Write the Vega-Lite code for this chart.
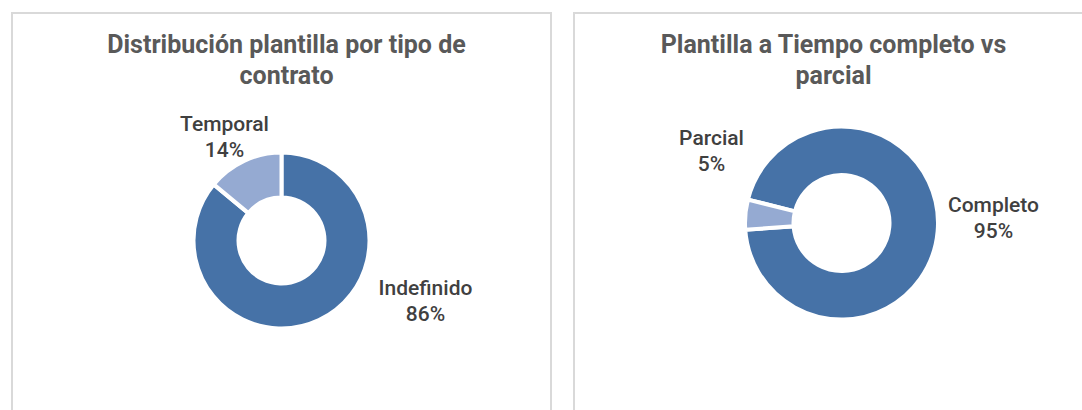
{
  "$schema": "https://vega.github.io/schema/vega-lite/v6.json",
  "background": "white",
  "padding": {"left": 11, "top": 12, "right": 0, "bottom": 0},
  "datasets": {
    "contrato": [
      {"tipo": "Indefinido", "pct": 86, "etiqueta": "Indefinido\n86%"},
      {"tipo": "Temporal", "pct": 14, "etiqueta": "Temporal\n14%"}
    ],
    "jornada": [
      {"tipo": "Completo", "pct": 95, "etiqueta": "Completo\n95%"},
      {"tipo": "Parcial", "pct": 5, "etiqueta": "Parcial\n5%"}
    ],
    "marco": [{}]
  },
  "spacing": 21,
  "resolve": {"scale": {"theta": "independent", "color": "independent"}},
  "hconcat": [
    {
      "width": 539,
      "height": 455,
      "title": {"text": ["Distribución plantilla por tipo de", "contrato"], "offset": -77, "dx": 5},
      "data": {"name": "contrato"},
      "layer": [
        {
          "data": {"name": "marco"},
          "mark": {"type": "rect", "fill": "transparent", "stroke": "#D9D9D9", "strokeWidth": 2},
          "encoding": {"x": {"value": 0}, "x2": {"value": "width"}, "y": {"value": 0}, "y2": {"value": "height"}}
        },
        {
          "mark": {"type": "arc", "outerRadius": 88, "innerRadius": 43, "stroke": "white", "strokeWidth": 4},
          "encoding": {
            "theta": {"field": "pct", "type": "quantitative", "stack": true},
            "color": {"field": "tipo", "type": "nominal", "scale": {"domain": ["Indefinido", "Temporal"], "range": ["#4672A7", "#95AAD2"]}, "legend": null},
            "order": {"field": "tipo", "sort": "ascending"}
          }
        },
        {
          "transform": [{"filter": "datum.tipo === 'Temporal'"}],
          "mark": {"type": "text", "dx": -57, "dy": -116},
          "encoding": {"text": {"field": "etiqueta", "type": "nominal"}}
        },
        {
          "transform": [{"filter": "datum.tipo === 'Indefinido'"}],
          "mark": {"type": "text", "dx": 144, "dy": 48},
          "encoding": {"text": {"field": "etiqueta", "type": "nominal"}}
        }
      ]
    },
    {
      "width": 535,
      "height": 420,
      "title": {"text": ["Plantilla a Tiempo completo vs", "parcial"], "offset": -77, "dx": -8},
      "data": {"name": "jornada"},
      "layer": [
        {
          "data": {"name": "marco"},
          "mark": {"type": "rect", "fill": "transparent", "stroke": "#D9D9D9", "strokeWidth": 2},
          "encoding": {"x": {"value": 0}, "x2": {"value": "width"}, "y": {"value": 0}, "y2": {"value": "height"}}
        },
        {
          "mark": {"type": "arc", "outerRadius": 96.5, "innerRadius": 48, "stroke": "white", "strokeWidth": 4},
          "encoding": {
            "theta": {"field": "pct", "type": "quantitative", "stack": true, "scale": {"range": [4.9567, 11.2399]}},
            "color": {"field": "tipo", "type": "nominal", "scale": {"domain": ["Completo", "Parcial"], "range": ["#4672A7", "#95AAD2"]}, "legend": null},
            "order": {"field": "tipo", "sort": "ascending"}
          }
        },
        {
          "transform": [{"filter": "datum.tipo === 'Parcial'"}],
          "mark": {"type": "text", "dx": -130, "dy": -84},
          "encoding": {"text": {"field": "etiqueta", "type": "nominal"}}
        },
        {
          "transform": [{"filter": "datum.tipo === 'Completo'"}],
          "mark": {"type": "text", "dx": 152, "dy": -17},
          "encoding": {"text": {"field": "etiqueta", "type": "nominal"}}
        }
      ]
    }
  ],
  "config": {
    "view": {"stroke": null},
    "title": {"font": "Roboto", "fontSize": 25, "fontWeight": "bold", "color": "#595959", "lineHeight": 31, "anchor": "middle"},
    "text": {"font": "Roboto", "fontSize": 21, "fontWeight": 500, "color": "#404040", "lineBreak": "\n", "lineHeight": 26, "align": "center", "baseline": "middle"}
  }
}
